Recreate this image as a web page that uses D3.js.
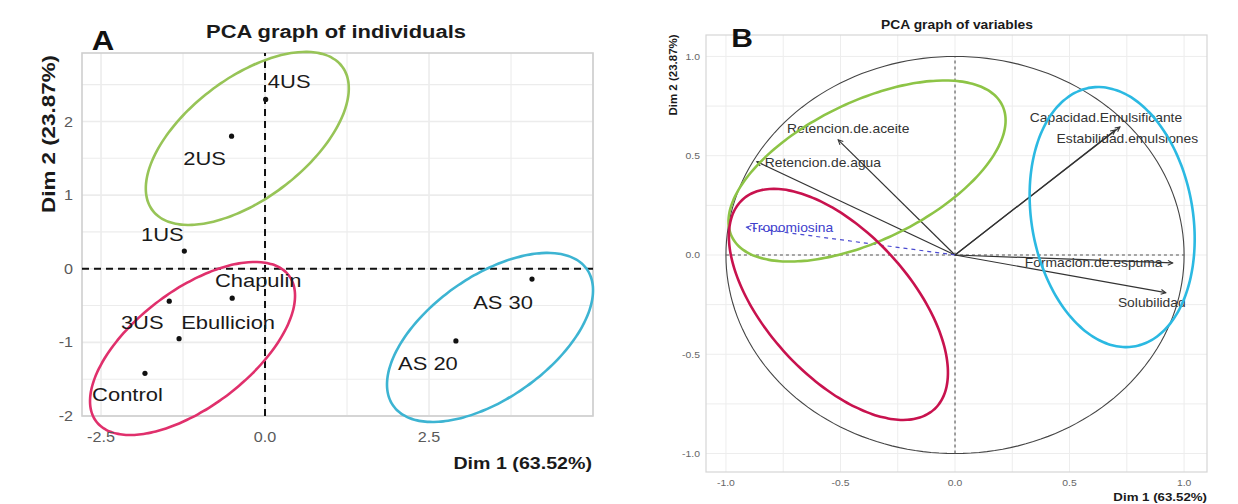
<!DOCTYPE html>
<html>
<head>
<meta charset="utf-8">
<script src="https://cdn.jsdelivr.net/npm/d3@7"></script>
<style>
  html, body { margin: 0; padding: 0; background: #fff; }
  svg { display: block; font-family: "Liberation Sans", Arial, sans-serif; }
</style>
</head>
<body>
<svg id="chart" width="1238" height="504"></svg>
<script>
// ---- Individuals (panel A) ----
const indNames = ["4US", "2US", "1US", "Chapulin", "3US", "Ebullicion", "Control", "AS 20", "AS 30"];
const indDim1  = [0.01, -0.51, -1.23, -0.50, -1.46, -1.31, -1.83, 2.91, 4.07];
const indDim2  = [2.30, 1.80, 0.24, -0.40, -0.44, -0.95, -1.42, -0.98, -0.14];

// group ellipses for individuals: centre and covariance (Dim 1 / Dim 2 units)
const ellANames = ["US", "Base", "AS"];
const ellACx  = [-0.27, -1.105, 3.43];
const ellACy  = [1.77, -1.083, -0.933];
const ellASxx = [2.394, 2.442, 2.466];
const ellASyy = [1.381, 1.381, 1.318];
const ellASxy = [1.051, 1.118, 1.005];

const ticksA_x = [-2.5, 0.0, 2.5];
const ticksA_y = [-2, -1, 0, 1, 2];

// ---- Variables (panel B) ----
const varNames = ["Capacidad.Emulsificante", "Estabilidad.emulsiones", "Formacion.de.espuma",
                  "Solubilidad", "Retencion.de.aceite", "Retencion.de.agua"];
const varDim1  = [0.72, 0.70, 0.95, 0.92, -0.51, -0.865];
const varDim2  = [0.645, 0.63, -0.04, -0.19, 0.58, 0.47];

const supNames = ["Tropomiosina"];
const supDim1  = [-0.91];
const supDim2  = [0.14];

const ellBNames = ["Retencion", "Tropomiosina", "Emulsion"];
const ellBCx  = [-0.384, -0.509, 0.686];
const ellBCy  = [0.423, -0.249, 0.191];
const ellBSxx = [0.3658, 0.2286, 0.1298];
const ellBSyy = [0.2079, 0.3386, 0.4289];
const ellBSxy = [0.154, -0.1643, -0.0396];

const ticksB = [-1.0, -0.5, 0.0, 0.5, 1.0];

// ---- layout ----
const indLabelDx = [23.5, -27, -22, 26, -27, 49, -17.5, -28, -29];
const indLabelDy = [-18, 22, -17, -18, 21, -17, 21, 22, 23];
const varLabelDx = [-14, 12, -79, -14, 10, 66];
const varLabelDy = [-9, 9, 0, 10, -11, 1];
const supLabelDx = [45];
const supLabelDy = [1];

const ellAColors = ["#97c457", "#e0306c", "#3db4d2"];
const ellBColors = ["#8dc446", "#c8124e", "#2bb9e2"];

const SX = 1.155; // horizontal text stretch

const svg = d3.select("#chart");

function label(g, x, y, s, opts = {}) {
  return g.append("text")
    .attr("transform", `translate(${x},${y}) scale(${opts.sx || SX},1)` + (opts.rot ? ` rotate(${opts.rot})` : ""))
    .attr("text-anchor", opts.anchor || "middle")
    .attr("dominant-baseline", "central")
    .attr("font-size", opts.size || 12)
    .attr("font-weight", opts.bold ? "bold" : "normal")
    .attr("fill", opts.fill || "#222")
    .text(s);
}

function ellipsePath(xs, ys, cx, cy, sxx, syy, sxy) {
  const a = Math.sqrt(sxx), b = sxy / a, c = Math.sqrt(syy - b * b);
  const pts = d3.range(0, 361, 3).map(d => {
    const t = d * Math.PI / 180;
    return [xs(cx + a * Math.cos(t)), ys(cy + b * Math.cos(t) + c * Math.sin(t))];
  });
  return d3.line().curve(d3.curveCardinalClosed)(pts.slice(0, -1));
}

// ================= Panel A =================
{
  const x = d3.scaleLinear().domain([-2.79, 5.0]).range([82, 593]);
  const y = d3.scaleLinear().domain([-2.0, 2.93]).range([416, 53]);
  const g = svg.append("g");

  // grid
  const gx = d3.range(-2.5, 5.01, 1.25), gy = d3.range(-2, 2.93, 0.5);
  g.selectAll(".gx").data(gx).join("line")
    .attr("x1", d => x(d)).attr("x2", d => x(d)).attr("y1", y(-2.0)).attr("y2", y(2.93))
    .attr("stroke", "#ececec").attr("stroke-width", d => (d % 2.5 === 0 ? 1.6 : 1.1));
  g.selectAll(".gy").data(gy).join("line")
    .attr("y1", d => y(d)).attr("y2", d => y(d)).attr("x1", x(-2.79)).attr("x2", x(5.0))
    .attr("stroke", "#ececec").attr("stroke-width", d => (Number.isInteger(d) ? 1.6 : 1.1));
  g.append("rect").attr("x", x(-2.79)).attr("y", y(2.93))
    .attr("width", x(5.0) - x(-2.79)).attr("height", y(-2.0) - y(2.93))
    .attr("fill", "none").attr("stroke", "#cfcfcf").attr("stroke-width", 1.6);

  // zero lines
  g.append("line").attr("x1", x(-2.79)).attr("x2", x(5.0)).attr("y1", y(0)).attr("y2", y(0))
    .attr("stroke", "#111").attr("stroke-width", 2).attr("stroke-dasharray", "7,5");
  g.append("line").attr("x1", x(0)).attr("x2", x(0)).attr("y1", y(-2.0)).attr("y2", y(2.93))
    .attr("stroke", "#111").attr("stroke-width", 2).attr("stroke-dasharray", "7,5");

  // ellipses
  ellANames.forEach((n, i) => {
    g.append("path")
      .attr("d", ellipsePath(x, y, ellACx[i], ellACy[i], ellASxx[i], ellASyy[i], ellASxy[i]))
      .attr("fill", "none").attr("stroke", ellAColors[i]).attr("stroke-width", 2.6);
  });

  // points + labels
  indNames.forEach((n, i) => {
    g.append("circle").attr("cx", x(indDim1[i])).attr("cy", y(indDim2[i])).attr("r", 2.6).attr("fill", "#111");
    label(g, x(indDim1[i]) + indLabelDx[i], y(indDim2[i]) + indLabelDy[i], n, { size: 19, fill: "#1a1a1a" });
  });

  // tick labels
  ticksA_x.forEach(t => label(g, x(t), 437, t.toFixed(1), { size: 14, fill: "#5a5a5a" }));
  ticksA_y.forEach(t => label(g, 73, y(t), String(t), { size: 14, fill: "#5a5a5a", anchor: "end" }));

  // titles
  label(g, 336, 31, "PCA graph of individuals", { size: 19, bold: true, fill: "#1a1a1a" });
  label(g, 103, 41, "A", { size: 27, bold: true, fill: "#111" });
  label(g, 592, 463, "Dim 1 (63.52%)", { size: 17, bold: true, fill: "#1a1a1a", anchor: "end" });
  g.append("text")
    .attr("transform", "translate(48,134) rotate(-90)")
    .attr("text-anchor", "middle").attr("dominant-baseline", "central")
    .attr("font-size", 19).attr("font-weight", "bold").attr("fill", "#1a1a1a")
    .attr("textLength", 158).attr("lengthAdjust", "spacingAndGlyphs")
    .text("Dim 2 (23.87%)");
}

// ================= Panel B =================
{
  const x = d3.scaleLinear().domain([-1.087, 1.10]).range([706, 1207]);
  const y = d3.scaleLinear().domain([-1.093, 1.108]).range([472, 35]);
  const g = svg.append("g");

  const defs = svg.append("defs");
  [["arrB", "#333"], ["arrS", "#4a4ad0"]].forEach(([id, col]) => {
    defs.append("marker").attr("id", id).attr("viewBox", "-8 -5 10 10")
      .attr("refX", 0).attr("refY", 0).attr("markerWidth", 8).attr("markerHeight", 8)
      .attr("markerUnits", "userSpaceOnUse").attr("orient", "auto")
      .append("path").attr("d", "M-6,-3 L0,0 L-6,3").attr("fill", "none")
      .attr("stroke", col).attr("stroke-width", 1.3);
  });

  const gv = d3.range(-1.0, 1.01, 0.25);
  g.selectAll(".gx").data(gv).join("line")
    .attr("x1", d => x(d)).attr("x2", d => x(d)).attr("y1", y(-1.093)).attr("y2", y(1.108))
    .attr("stroke", "#ededed").attr("stroke-width", 1);
  g.selectAll(".gy").data(gv).join("line")
    .attr("y1", d => y(d)).attr("y2", d => y(d)).attr("x1", x(-1.087)).attr("x2", x(1.10))
    .attr("stroke", "#ededed").attr("stroke-width", 1);
  g.append("rect").attr("x", x(-1.087)).attr("y", y(1.108))
    .attr("width", x(1.10) - x(-1.087)).attr("height", y(-1.093) - y(1.108))
    .attr("fill", "none").attr("stroke", "#d6d6d6").attr("stroke-width", 1.2);

  // correlation circle
  g.append("path")
    .attr("d", d3.line()(d3.range(0, 361, 2).map(d => [x(Math.cos(d * Math.PI / 180)), y(Math.sin(d * Math.PI / 180))])))
    .attr("fill", "none").attr("stroke", "#444").attr("stroke-width", 1.1);

  // zero lines
  g.append("line").attr("x1", x(-1.0)).attr("x2", x(1.0)).attr("y1", y(0)).attr("y2", y(0))
    .attr("stroke", "#555").attr("stroke-width", 1.1).attr("stroke-dasharray", "3,3");
  g.append("line").attr("x1", x(0)).attr("x2", x(0)).attr("y1", y(-1.0)).attr("y2", y(1.0))
    .attr("stroke", "#555").attr("stroke-width", 1.1).attr("stroke-dasharray", "3,3");

  // variable arrows
  varNames.forEach((n, i) => {
    g.append("line").attr("x1", x(0)).attr("y1", y(0)).attr("x2", x(varDim1[i])).attr("y2", y(varDim2[i]))
      .attr("stroke", "#333").attr("stroke-width", 1.2).attr("marker-end", "url(#arrB)");
    label(g, x(varDim1[i]) + varLabelDx[i], y(varDim2[i]) + varLabelDy[i], n, { size: 12, fill: "#333" });
  });
  supNames.forEach((n, i) => {
    g.append("line").attr("x1", x(0)).attr("y1", y(0)).attr("x2", x(supDim1[i])).attr("y2", y(supDim2[i]))
      .attr("stroke", "#4a4ad0").attr("stroke-width", 1.2).attr("stroke-dasharray", "4,4")
      .attr("marker-end", "url(#arrS)");
    label(g, x(supDim1[i]) + supLabelDx[i], y(supDim2[i]) + supLabelDy[i], n, { size: 12, fill: "#4040cc" });
  });

  // group ellipses
  ellBNames.forEach((n, i) => {
    g.append("path")
      .attr("d", ellipsePath(x, y, ellBCx[i], ellBCy[i], ellBSxx[i], ellBSyy[i], ellBSxy[i]))
      .attr("fill", "none").attr("stroke", ellBColors[i]).attr("stroke-width", 2.6);
  });

  // ticks
  ticksB.forEach(t => label(g, x(t), 483, t.toFixed(1), { size: 9, fill: "#666" }));
  ticksB.forEach(t => label(g, 700, y(t), t.toFixed(1), { size: 9, fill: "#666", anchor: "end" }));

  // titles
  label(g, 957, 25, "PCA graph of variables", { size: 12, bold: true, fill: "#1a1a1a" });
  label(g, 742, 38, "B", { size: 26, bold: true, fill: "#111" });
  label(g, 1207, 497, "Dim 1 (63.52%)", { size: 11.5, bold: true, fill: "#1a1a1a", anchor: "end" });
  g.append("text")
    .attr("transform", "translate(673,75) rotate(-90)")
    .attr("text-anchor", "middle").attr("dominant-baseline", "central")
    .attr("font-size", 11.5).attr("font-weight", "bold").attr("fill", "#1a1a1a")
    .text("Dim 2 (23.87%)");
}
</script>
</body>
</html>
